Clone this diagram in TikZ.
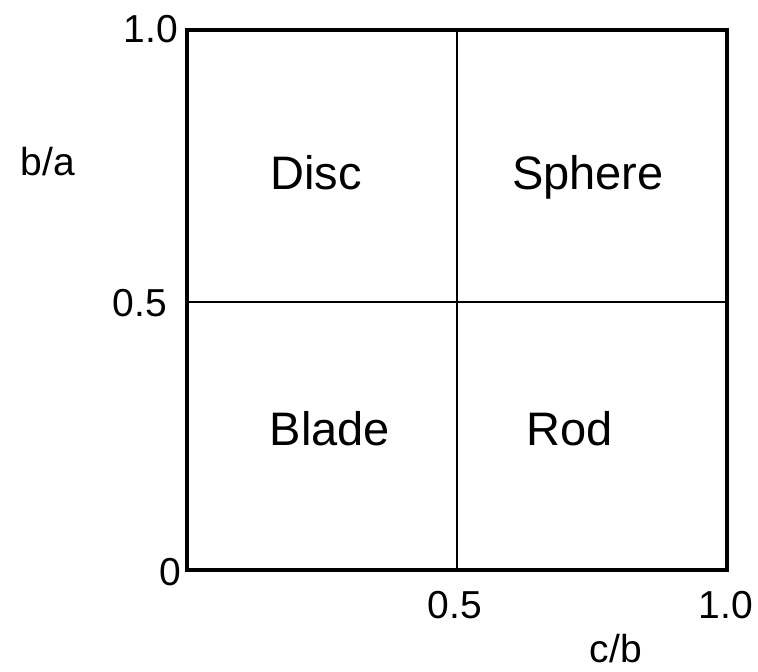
\documentclass[tikz,border=0pt]{standalone}
\usepackage{fontspec}
\setmainfont{Liberation Sans}
\begin{document}
\begin{tikzpicture}[x=1pt,y=-1pt,
  region/.style={inner sep=0pt,anchor=base,font=\fontsize{47}{56}\selectfont},
  tick/.style={inner sep=0pt,anchor=base,font=\fontsize{39}{47}\selectfont},
  frame/.style={line width=3.5pt},
  divider/.style={line width=2pt}]
  \useasboundingbox (0,0) rectangle (758,672);
  % chart corners
  \coordinate (bl) at (187,570);
  \coordinate (tr) at (727,30);
  \coordinate (ml) at (187,302);
  \coordinate (mr) at (727,302);
  \coordinate (mt) at (457,30);
  \coordinate (mb) at (457,570);
  % quadrant dividers
  \draw[divider] (ml) -- (mr);
  \draw[divider] (mt) -- (mb);
  % outer frame
  \draw[frame] (bl) rectangle (tr);
  % quadrant names
  \node[region] (disc)   at (316,189) {Disc};
  \node[region] (sphere) at (588,189) {Sphere};
  \node[region] (blade)  at (330,445) {Blade};
  \node[region] (rod)    at (570,445) {Rod};
  % axis values
  \node[tick] (y10) at (151,42)  {1.0};
  \node[tick] (y05) at (140,316) {0.5};
  \node[tick] (y0)  at (170,585) {0};
  \node[tick] (x05) at (455,618) {0.5};
  \node[tick] (x10) at (726,618) {1.0};
  % axis titles
  \node[tick] (ya) at (48,175) {b/a};
  \node[tick] (xa) at (616,662) {c/b};
\end{tikzpicture}
\end{document}
